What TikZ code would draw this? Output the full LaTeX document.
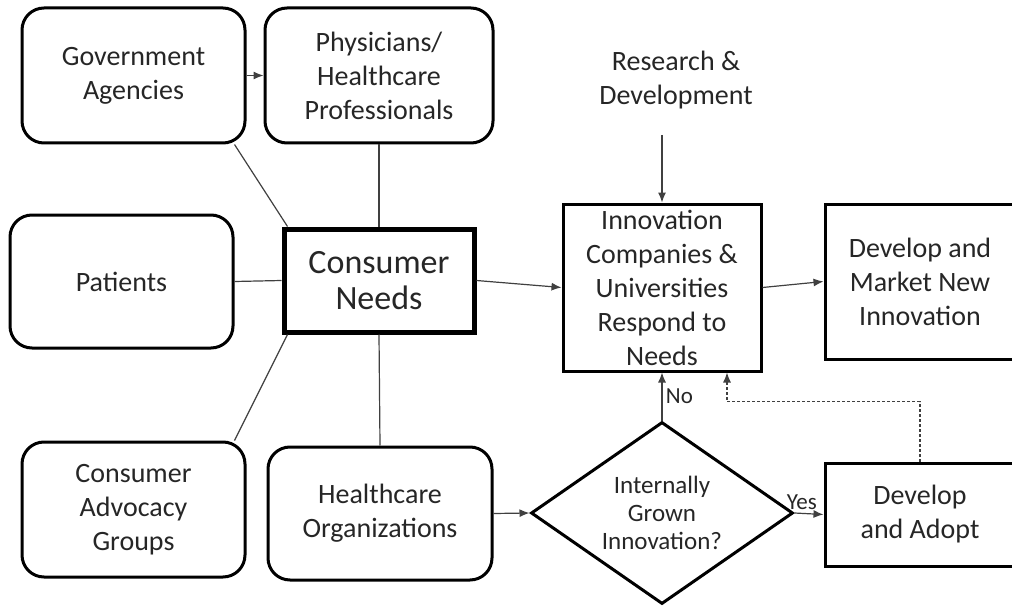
\documentclass[tikz,border=0pt]{standalone}
\usepackage{fontspec}
\setmainfont{Carlito}
\usetikzlibrary{arrows.meta}
\usetikzlibrary{positioning}
\usetikzlibrary{shapes.geometric}

\begin{document}
\begin{tikzpicture}[
					x=1pt, y=-1pt,
					line width=1.2pt,
					font=\fontsize{28}{34}\selectfont,
					text=black!85,
					roundbox/.style={draw, line width=3pt, rounded corners=22pt, align=center, inner sep=0pt},
					squarebox/.style={draw, line width=3pt, align=center, inner sep=0pt},
					decision/.style={draw, diamond, line width=3pt, align=center, inner sep=0pt, aspect=1.44,
						font=\fontsize{25}{28}\selectfont},
					link/.style={draw=black!75, line width=1.2pt},
					arrow/.style={link, -{Latex[length=10pt,width=8pt]}},
					choice/.style={font=\fontsize{23}{24}\selectfont},
				]
					\useasboundingbox (0,0) rectangle (1012,607);

					\node (gov) [roundbox, minimum width=223pt, minimum height=135pt] at (133.5,75.5) {Government\\Agencies};
					\node (phys) [roundbox, minimum width=228pt, minimum height=135pt] at (379,75.5) {Physicians/\\Healthcare\\Professionals};
					\node (pat) [roundbox, minimum width=223pt, minimum height=133pt] at (121.5,281.5) {Patients};
					\node (adv) [roundbox, minimum width=223pt, minimum height=135pt] at (133.5,509.5) {Consumer\\Advocacy\\Groups};
					\node (hco) [roundbox, minimum width=224pt, minimum height=133pt] at (380,513.5) {Healthcare\\Organizations};

					\node (needs) [squarebox, line width=5pt, minimum width=190pt, minimum height=103pt,
						font=\fontsize{34}{36}\selectfont] at (379,280.5) {Consumer\\Needs};
					\node (inno) [squarebox, minimum width=198pt, minimum height=167pt] at (662,287.5)
						{Innovation\\Companies \&\\Universities\\Respond to\\Needs};
					\node (mkt) [squarebox, minimum width=190pt, minimum height=155pt] at (920,281.5) {Develop and\\Market New\\Innovation};
					\node (rnd) [align=center] at (676,80) {Research \&\\Development};

					\node (intl) [decision, minimum width=262pt, minimum height=182pt] at (662,513) {Internally\\Grown\\Innovation?};
					\node (dad) [squarebox, minimum width=190pt, minimum height=103pt] at (920,514.5) {Develop\\and Adopt};

					\draw[arrow] (gov.east) -- (phys.west);
					\draw[link] ([xshift=-12pt]gov.south east) -- ([xshift=6pt]needs.north west);
					\draw[link] (phys.south) -- (needs.north);
					\draw[link] (pat.east) -- (needs.west);
					\draw[link] ([xshift=-12pt]adv.north east) -- ([xshift=6pt]needs.south west);
					\draw[link] (needs.south) -- (hco.north);

					\draw[arrow] ([yshift=-22pt]rnd.south -| inno.north) -- (inno.north);
					\draw[arrow] (needs.east) -- (inno.west);
					\draw[arrow] (inno.east) -- (mkt.west);
					\draw[arrow] (hco.east) -- (intl.west);
					\draw[arrow] (intl.north) -- node[right, choice] {No} (inno.south);
					\draw[arrow] (intl.east) -- node[above, pos=0.25, choice] {Yes} (dad.west);
					\draw[arrow, dash pattern=on 3pt off 2pt] (dad.north) |- ([xshift=65pt, yshift=-29pt]inno.south) -- ([xshift=65pt]inno.south);
				\end{tikzpicture}
\end{document}
